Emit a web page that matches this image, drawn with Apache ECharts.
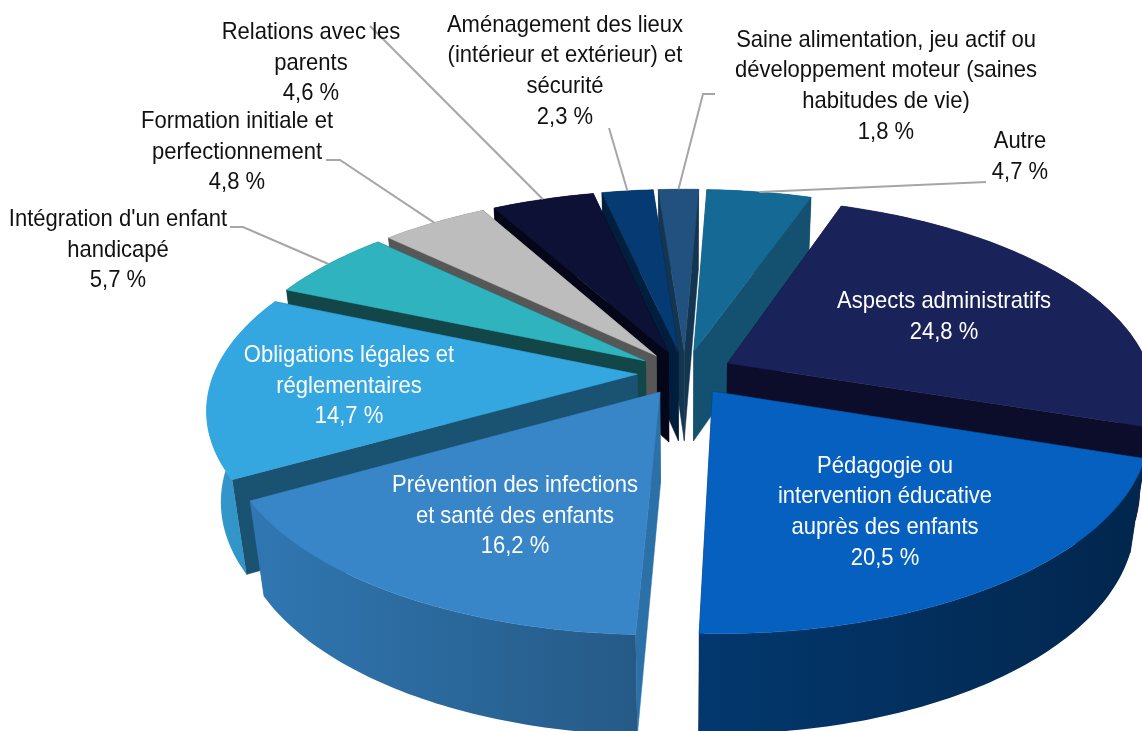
<!DOCTYPE html>
<html>
<head>
<meta charset="utf-8">
<style>
  html, body { margin: 0; padding: 0; background: #fff; }
  #main { width: 1142px; height: 731px; overflow: hidden; }
</style>
<script src="https://cdn.jsdelivr.net/npm/echarts@6/dist/echarts.min.js"></script>
</head>
<body>
<div id="main"></div>
<script>
// valeurs, dans le sens horaire
const names = [
  "Aspects administratifs",
  "Pédagogie ou\nintervention éducative\nauprès des enfants",
  "Prévention des infections\net santé des enfants",
  "Obligations légales et\nréglementaires",
  "Intégration d'un enfant\nhandicapé",
  "Formation initiale et\nperfectionnement",
  "Relations avec les\nparents",
  "Aménagement des lieux\n(intérieur et extérieur) et\nsécurité",
  "Saine alimentation, jeu actif ou\ndéveloppement moteur (saines\nhabitudes de vie)",
  "Autre"
];
const shares = [24.8, 20.5, 16.2, 14.7, 5.7, 4.8, 4.6, 2.3, 1.8, 4.7];

const topColors = ["#1a2359", "#0560bf", "#3885c8", "#34a6e0", "#2fb3bf", "#bdbdbd", "#0d1135", "#053a72", "#23517f", "#146a94"];
const wallColors = ["#0b0d2a", "#02264d", "#2c70a8", "#1a5272", "#124648", "#575757", "#050618", "#011e3c", "#143550", "#14506f"];
const rimLeft = ["#0b0d2a", "#03386e", "#3077b2", "#3499ce", "#124648", "#575757", "#050618", "#011e3c", "#143550", "#14506f"];
const rimRight = ["#0b0d2a", "#02264d", "#255a86", "#2f8fc2", "#124648", "#575757", "#050618", "#011e3c", "#143550", "#14506f"];

// position des étiquettes [x, y centre du bloc, couleur]
const labelSpots = [
  [944, 317, "#fff"], [885, 512, "#fff"], [515, 516, "#fff"], [349, 386, "#fff"],
  [118, 250, "#111"], [237, 152, "#111"], [311, 63, "#111"], [565, 71, "#111"],
  [886, 86, "#111"], [1020, 157, "#111"]
];
// point de départ (et coude) des lignes de rappel, à partir de l'étiquette
const leaders = {
  4: [[230, 227], [243, 227]],
  5: [[326, 160], [340, 160]],
  6: [[370, 26]],
  7: [[609, 128]],
  8: [[715, 94], [703, 94]],
  9: [[986, 182]]
};

const CX = 685, CY = 373, R = 423, TILT = 195.5, DEPTH = 93;
const PERSP = 0.165, PERSP_Z = 0.03, EXPLODE = 0.113, START = 19.2;
const total = shares.reduce((a, b) => a + b, 0);

function project(X, Y, down) {
  const s = 1 / (1 + PERSP * Y + PERSP_Z * down);
  return [CX + R * X * s, CY - TILT * Y * s + DEPTH * down * s];
}

function sliceAngles(idx) {
  let before = 0;
  for (let i = 0; i < idx; i++) before += shares[i];
  const a0 = START + before / total * 360;
  const a1 = a0 + shares[idx] / total * 360;
  return [a0, a1];
}

function rimPoint(idx, deg, down) {
  const [a0, a1] = sliceAngles(idx);
  const mid = (a0 + a1) / 2 * Math.PI / 180;
  const t = deg * Math.PI / 180;
  return project(EXPLODE * Math.sin(mid) + Math.sin(t), EXPLODE * Math.cos(mid) + Math.cos(t), down);
}

function tipPoint(idx, down) {
  const [a0, a1] = sliceAngles(idx);
  const mid = (a0 + a1) / 2 * Math.PI / 180;
  return project(EXPLODE * Math.sin(mid), EXPLODE * Math.cos(mid), down);
}

// ordre de dessin : du fond vers l'avant
const depthOrder = shares.map((v, i) => {
  const [a0, a1] = sliceAngles(i);
  return { i, d: Math.cos((a0 + a1) / 2 * Math.PI / 180) };
}).sort((a, b) => b.d - a.d).map(o => o.i);

function renderSlice(params, api) {
  const idx = api.value(1);
  const [a0, a1] = sliceAngles(idx);
  const base = depthOrder.indexOf(idx) * 10;
  const arcTop = [], arcBottom = [];
  const steps = Math.max(4, Math.ceil(a1 - a0));
  for (let k = 0; k <= steps; k++) {
    const deg = a0 + (a1 - a0) * k / steps;
    arcTop.push(rimPoint(idx, deg, 0));
    arcBottom.push(rimPoint(idx, deg, 1));
  }
  const tipT = tipPoint(idx, 0), tipB = tipPoint(idx, 1);
  const children = [];
  const wall = (p, q) => ({
    type: "polygon", z2: base + 1,
    shape: { points: [tipT, p, q, tipB] },
    style: { fill: wallColors[idx], stroke: wallColors[idx], lineWidth: 0.5 }
  });
  children.push(wall(arcTop[0], arcBottom[0]));
  children.push(wall(arcTop[steps], arcBottom[steps]));
  children.push({
    type: "polygon", z2: base + 2,
    shape: { points: arcTop.concat(arcBottom.slice().reverse()) },
    style: {
      fill: new echarts.graphic.LinearGradient(0, 0, 1, 0, [
        { offset: 0, color: rimLeft[idx] },
        { offset: 1, color: rimRight[idx] }
      ])
    }
  });
  children.push({
    type: "polygon", z2: base + 3,
    shape: { points: [tipT].concat(arcTop) },
    style: { fill: topColors[idx], stroke: topColors[idx], lineWidth: 0.5 }
  });
  if (leaders[idx]) {
    const m = (a0 + a1) / 2;
    children.push({
      type: "polyline", z2: 500,
      shape: { points: leaders[idx].concat([rimPoint(idx, m, 0)]) },
      style: { stroke: "#a6a6a6", lineWidth: 2, fill: null }
    });
  }
  const spot = labelSpots[idx];
  children.push({
    type: "text", z2: 600, x: spot[0], y: spot[1], scaleX: 0.917,
    style: {
      text: names[idx] + "\n" + api.value(0).toFixed(1).replace(".", ",") + " %",
      fill: spot[2],
      fontFamily: "Liberation Sans",
      fontSize: 24,
      lineHeight: 30.7,
      align: "center",
      verticalAlign: "middle"
    }
  });
  return { type: "group", children };
}

const myChart = echarts.init(document.getElementById("main"));
myChart.setOption({
  animation: false,
  backgroundColor: "#fff",
  series: [{
    type: "custom",
    coordinateSystem: "none",
    silent: true,
    data: shares.map((v, i) => [v, i]),
    renderItem: renderSlice
  }]
});
</script>
</body>
</html>
